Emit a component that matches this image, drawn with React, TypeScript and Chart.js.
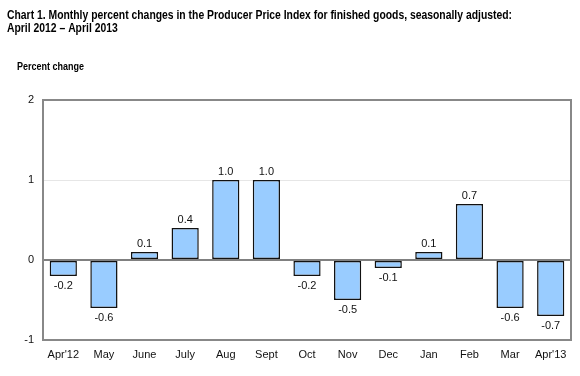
import React, { useEffect, useRef } from "react";
import { Chart, registerables } from "chart.js";

Chart.register(...registerables);

const categories = ["Apr'12", "May", "June", "July", "Aug", "Sept", "Oct", "Nov", "Dec", "Jan", "Feb", "Mar", "Apr'13"];
const values = [-0.2, -0.6, 0.1, 0.4, 1.0, 1.0, -0.2, -0.5, -0.1, 0.1, 0.7, -0.6, -0.7];
const titleLines = [
  "Chart 1. Monthly percent changes in the Producer Price Index for finished goods, seasonally adjusted:",
  "April 2012 \u2013 April 2013",
];
const axisLabel = "Percent change";
const yMin = -1;
const yMax = 2;

const FONT = "'Liberation Sans', Arial, sans-serif";

export default function App() {
  const ref = useRef<HTMLCanvasElement | null>(null);
  useEffect(() => {
    document.body.style.margin = "0";
    const canvas = ref.current!;
    const textPlugin = {
      id: "texts",
      beforeDatasetsDraw(chart: any) {
        const { ctx, chartArea } = chart;
        ctx.save();
        ctx.strokeStyle = "#888";
        ctx.lineWidth = 2;
        ctx.strokeRect(chartArea.left, chartArea.top, chartArea.right - chartArea.left, chartArea.bottom - chartArea.top);
        ctx.restore();
      },
      afterDatasetsDraw(chart: any) {
        const { ctx } = chart;
        const meta = chart.getDatasetMeta(0);
        ctx.save();
        ctx.font = `11px ${FONT}`;
        ctx.fillStyle = "#111";
        ctx.textAlign = "center";
        meta.data.forEach((bar: any, i: number) => {
          const v = values[i];
          const label = v.toFixed(1);
          if (v >= 0) {
            ctx.textBaseline = "bottom";
            ctx.fillText(label, bar.x, bar.y - 3);
          } else {
            ctx.textBaseline = "top";
            ctx.fillText(label, bar.x, bar.y + 4);
          }
        });
        ctx.restore();
      },
      afterDraw(chart: any) {
        const { ctx } = chart;
        ctx.save();
        ctx.fillStyle = "#000";
        ctx.textAlign = "left";
        ctx.textBaseline = "alphabetic";
        ctx.font = `bold 12.5px ${FONT}`;
        const w = ctx.measureText(titleLines[0]).width;
        const sx = 505 / w;
        ctx.save();
        ctx.translate(7, 0);
        ctx.scale(sx, 1);
        ctx.fillText(titleLines[0], 0, 18.5);
        ctx.fillText(titleLines[1], 0, 32);
        ctx.restore();
        ctx.font = `bold 11px ${FONT}`;
        const w2 = ctx.measureText(axisLabel).width;
        ctx.save();
        ctx.translate(17, 0);
        ctx.scale(67 / w2, 1);
        ctx.fillText(axisLabel, 0, 70);
        ctx.restore();
        ctx.restore();
      },
    };
    const chart = new Chart(canvas, {
      type: "bar",
      data: {
        labels: categories,
        datasets: [
          {
            data: values,
            backgroundColor: "#99CCFF",
            borderColor: "#111",
            borderWidth: 1.5,
            borderSkipped: false,
            categoryPercentage: 1,
            barPercentage: 0.67,
          },
        ],
      },
      options: {
        responsive: false,
        animation: false,
        layout: { padding: { top: 100, right: 9, left: 0, bottom: 0 } },
        plugins: { legend: { display: false }, tooltip: { enabled: false }, title: { display: false } },
        scales: {
          x: {
            grid: { display: false, drawTicks: false },
            border: { display: false },
            ticks: { color: "#111", font: { family: FONT, size: 11 }, padding: 8, maxRotation: 0, autoSkip: false },
            afterFit: (s: any) => { s.height = 36; },
          },
          y: {
            min: yMin,
            max: yMax,
            ticks: { stepSize: 1, color: "#111", font: { family: FONT, size: 11 }, padding: 9 },
            grid: {
              drawTicks: false,
              color: (c: any) => (c.tick && c.tick.value === 0 ? "#808080" : "#e6e6e6"),
              lineWidth: (c: any) => (c.tick && c.tick.value === 0 ? 2 : 1),
            },
            border: { display: false },
            afterFit: (s: any) => { s.width = 43; },
          },
        },
      },
      plugins: [textPlugin],
    });
    return () => chart.destroy();
  }, []);
  return (
    <div style={{ width: 580, height: 376 }}>
      <canvas ref={ref} width={580} height={376} style={{ display: "block" }} />
    </div>
  );
}
